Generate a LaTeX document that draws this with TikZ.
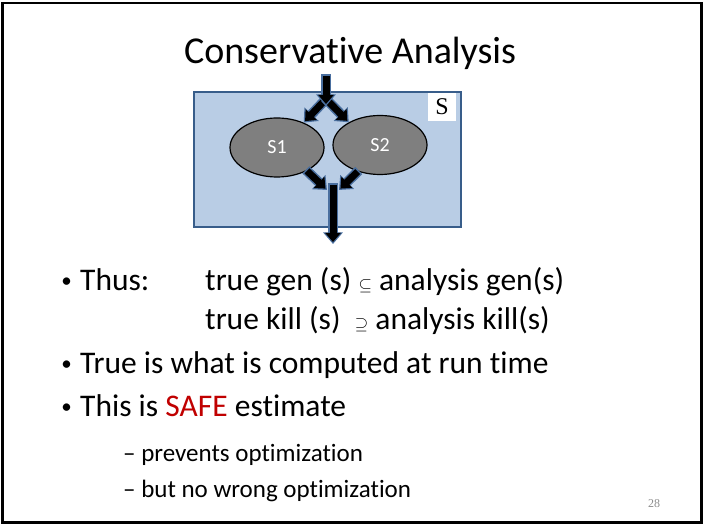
\documentclass[tikz,border=0pt]{standalone}
\usepackage{fontspec}
\setmainfont{Carlito}[Ligatures=NoCommon]
\newfontfamily\timesfont{Liberation Serif}
\usetikzlibrary{shapes.geometric,arrows.meta}
\definecolor{boxfill}{HTML}{B9CDE5}
\definecolor{boxedge}{HTML}{385D8A}
\definecolor{arrowedge}{HTML}{4A6F9F}
\definecolor{blobgray}{HTML}{7F7F7F}
\definecolor{safered}{HTML}{C00000}
\definecolor{pagegray}{HTML}{8C8C8C}
\tikzset{
  blob/.style={ellipse, draw=black, line width=1.2pt, fill=blobgray, text=white,
    minimum width=94pt, minimum height=59pt, inner sep=0pt,
    font=\fontsize{20}{20}\selectfont},
  flow/.style={line width=7pt, -{Triangle[length=9pt,width=15pt]}, shorten >=2pt,
    preaction={draw=arrowedge, line width=10pt, shorten >=0pt, shorten <=-1.5pt,
      -{Triangle[length=11.5pt,width=19pt]}}},
  body/.style={anchor=base west, inner sep=0pt, font=\fontsize{31.5}{38}\selectfont},
  sub/.style={anchor=base west, inner sep=0pt, font=\fontsize{25}{30}\selectfont},
  bull/.style={anchor=base, inner sep=0pt, font=\fontsize{21}{21}\selectfont},
}
\newcommand{\setsym}[1]{{\fontsize{19}{19}\selectfont$#1$}}
\begin{document}
\begin{tikzpicture}[x=1pt,y=-1pt]
\useasboundingbox (0,0) rectangle (705,526);
\draw[line width=2.5pt] (2.5,3) rectangle (701.5,522.5);
% title
\node[font=\fontsize{38}{38}\selectfont, anchor=base, inner sep=0pt] (title) at (350,64) {Conservative Analysis};
% statement S with its two parts
\node[draw=boxedge, line width=1.5pt, fill=boxfill, minimum width=267pt, minimum height=135pt, inner sep=0pt] (stmt) at (327.5,159.5) {};
\node[fill=white, minimum width=28pt, minimum height=28pt, inner sep=0pt, font=\timesfont\fontsize{24}{24}\selectfont] (slabel) at (442,107) {S};
\node[blob] (s1) at (277,147.5) {S1};
\node[blob] (s2) at (380,145) {S2};
\coordinate (entry) at (326,76);
\coordinate (fork) at (326,99);
\coordinate (forktip) at (326,106);
\coordinate (joinl) at (327,190);
\coordinate (joinr) at (339,190);
\coordinate (join) at (333,185);
\coordinate (exit) at (333,244);
% flow arrows
\draw[flow] (fork) -- (s1.43);
\draw[flow] (fork) -- (s2.144);
\draw[flow] (entry) -- (forktip);
\draw[flow] (s1.-38) -- (joinl);
\draw[flow] (s2.-130) -- (joinr);
\draw[flow] (join) -- (exit);
% bullets
\node[bull] (b1) at (66.5,288) {\textbullet};
\node[body] (thus) at (80,291) {Thus:};
\node[body] (gen) at (205,291) {true gen (s) \setsym{\subseteq} analysis gen(s)};
\node[body] (kill) at (205,330) {true kill (s)\ \ \setsym{\supseteq} analysis kill(s)};
\node[bull] (b2) at (66.5,371) {\textbullet};
\node[body] (truerow) at (80,374) {True is what is computed at run time};
\node[bull] (b3) at (66.5,414) {\textbullet};
\node[body] (safe) at (80,417) {This is \textcolor{safered}{SAFE} estimate};
\node[sub] (prevents) at (123,462) {– prevents optimization};
\node[sub] (nowrong) at (123,498) {– but no wrong optimization};
\node[anchor=base, inner sep=0pt, text=pagegray, font=\timesfont\fontsize{12}{12}\selectfont] (pagenum) at (654,508) {28};
\end{tikzpicture}
\end{document}
